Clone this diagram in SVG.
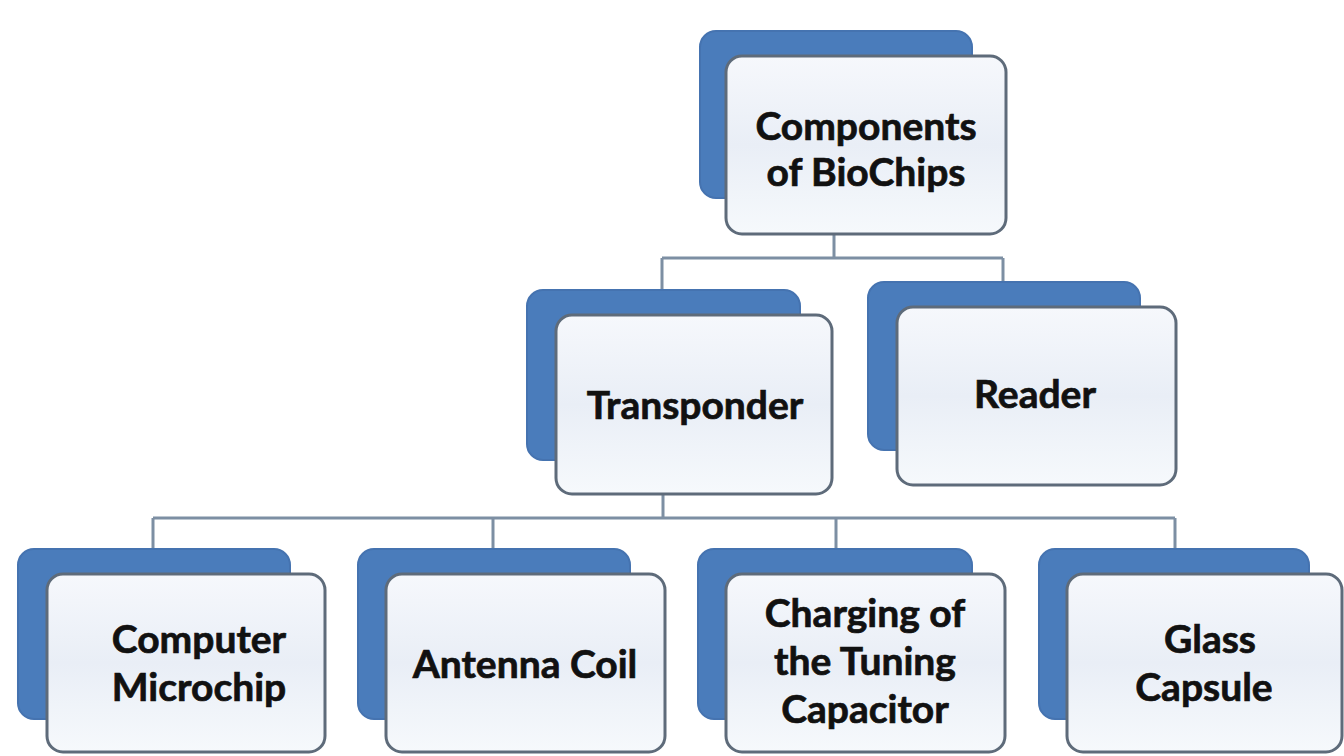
<svg xmlns="http://www.w3.org/2000/svg" width="1344" height="756" viewBox="0 0 1344 756">
<defs>
<linearGradient id="g" x1="0" y1="0" x2="0" y2="1">
<stop offset="0" stop-color="#f6f8fc"/>
<stop offset="0.5" stop-color="#e9eef6"/>
<stop offset="1" stop-color="#f6f9fc"/>
</linearGradient>
<style>
.back{fill:#4a7cbb;stroke:#4573b0;stroke-width:2}
.front{fill:url(#g);stroke:#5e6b7a;stroke-width:3}
.lbl{font-family:"Lato","Open Sans",sans-serif;font-weight:bold;font-size:39px;fill:#111;stroke:#111;stroke-width:0.7;text-anchor:middle}
.con{fill:none;stroke:#7d8fa3;stroke-width:3}
</style>
</defs>
<rect width="1344" height="756" fill="#ffffff"/>
<g id="connectors">
<path class="con" d="M834 234 V258 M662 258 H1003 M662 258 V292 M1003 258 V284"/>
<path class="con" d="M663 494 V518 M153 518 H1175 M153 518 V550 M493 518 V550 M836 518 V550 M1175 518 V550"/>
</g>
<g id="n-root">
<rect class="back" x="700" y="31" width="272" height="167" rx="16"/>
<rect class="front" x="726" y="56" width="280" height="178" rx="16"/>
<text class="lbl" x="866" y="140">Components</text>
<text class="lbl" x="866" y="186">of BioChips</text>
</g>
<g id="n-transponder">
<rect class="back" x="527" y="290" width="273" height="170" rx="16"/>
<rect class="front" x="556" y="315" width="276" height="179" rx="16"/>
<text class="lbl" x="695" y="419">Transponder</text>
</g>
<g id="n-reader">
<rect class="back" x="868" y="282" width="272" height="168" rx="16"/>
<rect class="front" x="897" y="307" width="279" height="178" rx="16"/>
<text class="lbl" x="1035" y="408">Reader</text>
</g>
<g id="n-microchip">
<rect class="back" x="18" y="549" width="272" height="170" rx="16"/>
<rect class="front" x="47" y="574" width="278" height="178" rx="16"/>
<text class="lbl" x="199" y="653">Computer</text>
<text class="lbl" x="199" y="701">Microchip</text>
</g>
<g id="n-antenna">
<rect class="back" x="358" y="549" width="272" height="170" rx="16"/>
<rect class="front" x="386" y="574" width="279" height="178" rx="16"/>
<text class="lbl" x="525" y="678">Antenna Coil</text>
</g>
<g id="n-charging">
<rect class="back" x="698" y="549" width="274" height="170" rx="16"/>
<rect class="front" x="726" y="574" width="279" height="178" rx="16"/>
<text class="lbl" x="865" y="627">Charging of</text>
<text class="lbl" x="865" y="675">the Tuning</text>
<text class="lbl" x="865" y="723">Capacitor</text>
</g>
<g id="n-glass">
<rect class="back" x="1039" y="549" width="270" height="170" rx="16"/>
<rect class="front" x="1067" y="574" width="275" height="178" rx="16"/>
<text class="lbl" x="1210" y="653">Glass</text>
<text class="lbl" x="1204" y="701">Capsule</text>
</g>
</svg>
